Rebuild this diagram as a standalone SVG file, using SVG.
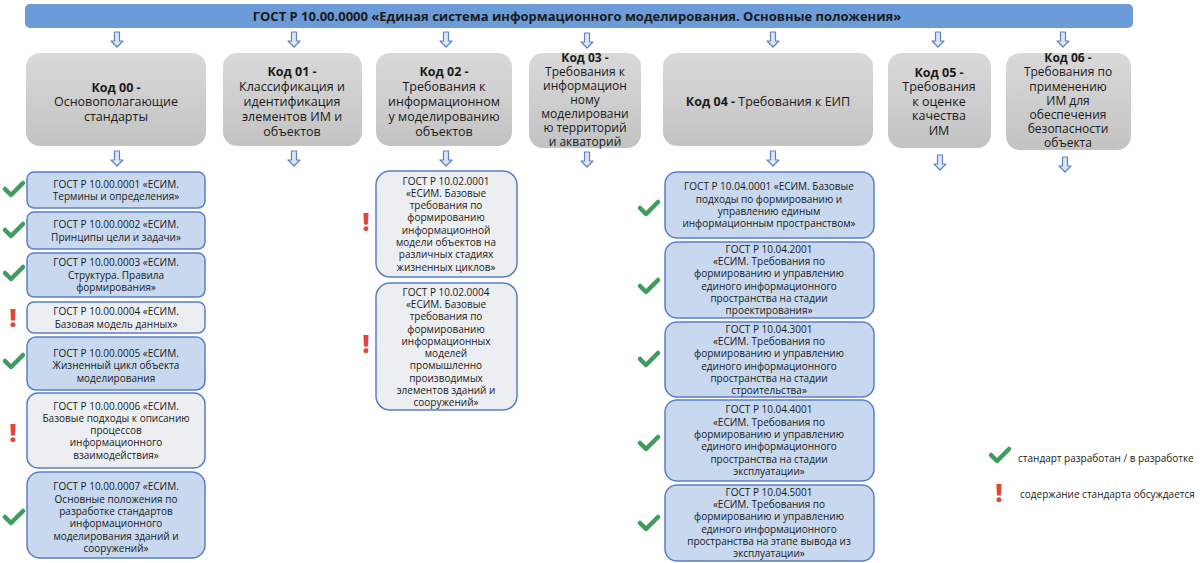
<svg xmlns="http://www.w3.org/2000/svg" width="1200" height="563" viewBox="0 0 1200 563">
<defs>
<linearGradient id="gray" x1="0" y1="0" x2="0" y2="1">
<stop offset="0" stop-color="#d9d9d9"/>
<stop offset="1" stop-color="#c3c3c3"/>
</linearGradient>
<path id="arr" d="M-2.5,0 H2.5 V9 H6 L0,15 L-6,9 H-2.5 Z" fill="#dce6f4" stroke="#5b82c6" stroke-width="1.2" stroke-linejoin="round"/>
<path id="chk" d="M-9,0 L-3,6 L9,-6" fill="none" stroke="#3f9b5e" stroke-width="4.5" stroke-linecap="round" stroke-linejoin="round"/>
</defs>
<style>
text{font-family:"Open Sans","Noto Sans","Liberation Sans",sans-serif;fill:#1a1a1a}
.title{font-size:13px;font-weight:bold;text-anchor:middle}
.code rect{fill:url(#gray);stroke:none}
.code text{font-size:12.5px;text-anchor:middle}
.code.tight text{font-size:12px}
.b{font-weight:bold}
.std rect{stroke:#5b7fc6;stroke-width:1.5}
.blue rect{fill:#c7d8ef}
.grey rect{fill:#eceef2}
.std text{font-size:10px;text-anchor:middle}
.warn{font-size:24px;font-weight:800;fill:#e0443c;text-anchor:middle}
.legend{font-size:10px}
</style>
<rect width="1200" height="563" fill="#ffffff"/>

<g id="header">
<rect x="25" y="4" width="1108" height="24" rx="5" fill="#6c9bd9"/>
<text class="title" x="577" y="20.5">ГОСТ Р 10.00.0000 «Единая система информационного моделирования. Основные положения»</text>
</g>

<g id="connectors">
<use href="#arr" x="117" y="32"/>
<use href="#arr" x="294" y="32"/>
<use href="#arr" x="446" y="32"/>
<use href="#arr" x="587" y="33"/>
<use href="#arr" x="773" y="32"/>
<use href="#arr" x="938" y="32"/>
<use href="#arr" x="1063" y="32"/>
<use href="#arr" x="117" y="151"/>
<use href="#arr" x="294" y="151"/>
<use href="#arr" x="446" y="151"/>
<use href="#arr" x="587" y="152"/>
<use href="#arr" x="773" y="151"/>
<use href="#arr" x="940" y="155"/>
<use href="#arr" x="1065" y="157"/>
</g>

<g id="code00" class="code">
<rect x="26" y="53" width="180" height="93" rx="14"/>
<text x="116" y="91.5" class="b">Код 00 -</text>
<text x="116" y="106">Основополагающие</text>
<text x="116" y="120.5">стандарты</text>
</g>
<g id="code01" class="code">
<rect x="223" y="53" width="139" height="93" rx="14"/>
<text x="292" y="75.5" class="b">Код 01 -</text>
<text x="292" y="90.5">Классификация и</text>
<text x="292" y="105.5">идентификация</text>
<text x="292" y="120.5">элементов ИМ и</text>
<text x="292" y="135.5">объектов</text>
</g>
<g id="code02" class="code">
<rect x="376" y="53" width="136" height="93" rx="14"/>
<text x="444" y="75.5" class="b">Код 02 -</text>
<text x="444" y="90.5">Требования к</text>
<text x="444" y="105.5">информационном</text>
<text x="444" y="120.5">у моделированию</text>
<text x="444" y="135.5">объектов</text>
</g>
<g id="code03" class="code tight">
<rect x="529" y="53" width="112" height="95" rx="14"/>
<text x="585" y="61.5" class="b">Код 03 -</text>
<text x="585" y="75.5">Требования к</text>
<text x="585" y="89.5">информацион</text>
<text x="585" y="103.5">ному</text>
<text x="585" y="117.5">моделировани</text>
<text x="585" y="132">ю территорий</text>
<text x="585" y="146">и акваторий</text>
</g>
<g id="code04" class="code">
<rect x="663" y="53" width="210" height="93" rx="14"/>
<text x="768" y="105.5"><tspan class="b">Код 04 -</tspan> Требования к ЕИП</text>
</g>
<g id="code05" class="code">
<rect x="888" y="53" width="103" height="95" rx="14"/>
<text x="939" y="76.5" class="b">Код 05 -</text>
<text x="939" y="90.5">Требования</text>
<text x="939" y="105.5">к оценке</text>
<text x="939" y="119.5">качества</text>
<text x="939" y="134.5">ИМ</text>
</g>
<g id="code06" class="code tight">
<rect x="1006" y="53" width="125" height="97" rx="14"/>
<text x="1068" y="61.5" class="b">Код 06 -</text>
<text x="1068" y="76">Требования по</text>
<text x="1068" y="90.5">применению</text>
<text x="1068" y="104.5">ИМ для</text>
<text x="1068" y="118.5">обеспечения</text>
<text x="1068" y="132.5">безопасности</text>
<text x="1068" y="146.5">объекта</text>
</g>

<g id="s0001" class="std blue">
<rect x="27" y="172" width="178" height="36" rx="7"/>
<text x="116" y="187.5">ГОСТ Р 10.00.0001 «ЕСИМ.</text>
<text x="116" y="200">Термины и определения»</text>
</g>
<g id="s0002" class="std blue">
<rect x="27" y="212" width="178" height="37" rx="7"/>
<text x="116" y="228">ГОСТ Р 10.00.0002 «ЕСИМ.</text>
<text x="116" y="240.5">Принципы цели и задачи»</text>
</g>
<g id="s0003" class="std blue">
<rect x="27" y="253" width="178" height="44" rx="7"/>
<text x="116" y="266">ГОСТ Р 10.00.0003 «ЕСИМ.</text>
<text x="116" y="278.5">Структура. Правила</text>
<text x="116" y="291">формирования»</text>
</g>
<g id="s0004" class="std grey">
<rect x="27" y="302" width="178" height="31" rx="7"/>
<text x="116" y="315">ГОСТ Р 10.00.0004 «ЕСИМ.</text>
<text x="116" y="327.5">Базовая модель данных»</text>
</g>
<g id="s0005" class="std blue">
<rect x="27" y="337" width="178" height="53" rx="9"/>
<text x="116" y="356.5">ГОСТ Р 10.00.0005 «ЕСИМ.</text>
<text x="116" y="369">Жизненный цикл объекта</text>
<text x="116" y="381.5">моделирования</text>
</g>
<g id="s0006" class="std grey">
<rect x="27" y="393" width="178" height="75" rx="11"/>
<text x="116" y="409.5">ГОСТ Р 10.00.0006 «ЕСИМ.</text>
<text x="116" y="421.8">Базовые подходы к описанию</text>
<text x="116" y="434.1">процессов</text>
<text x="116" y="446.4">информационного</text>
<text x="116" y="458.7">взаимодействия»</text>
</g>
<g id="s0007" class="std blue">
<rect x="27" y="472" width="178" height="86" rx="13"/>
<text x="116" y="490.4">ГОСТ Р 10.00.0007 «ЕСИМ.</text>
<text x="116" y="502.7">Основные положения по</text>
<text x="116" y="515">разработке стандартов</text>
<text x="116" y="527.3">информационного</text>
<text x="116" y="539.6">моделирования зданий и</text>
<text x="116" y="551.9">сооружений»</text>
</g>

<g id="s0201" class="std grey">
<rect x="376" y="171" width="141" height="106" rx="14"/>
<text x="446" y="184.5">ГОСТ Р 10.02.0001</text>
<text x="446" y="196.8">«ЕСИМ. Базовые</text>
<text x="446" y="209.1">требования по</text>
<text x="446" y="221.4">формированию</text>
<text x="446" y="233.7">информационной</text>
<text x="446" y="246">модели объектов на</text>
<text x="446" y="258.3">различных стадиях</text>
<text x="446" y="270.6">жизненных циклов»</text>
</g>
<g id="s0204" class="std grey">
<rect x="376" y="283" width="141" height="127" rx="14"/>
<text x="446" y="295.6">ГОСТ Р 10.02.0004</text>
<text x="446" y="307.9">«ЕСИМ. Базовые</text>
<text x="446" y="320.2">требования по</text>
<text x="446" y="332.5">формированию</text>
<text x="446" y="344.8">информационных</text>
<text x="446" y="357.1">моделей</text>
<text x="446" y="369.4">промышленно</text>
<text x="446" y="381.7">производимых</text>
<text x="446" y="394">элементов зданий и</text>
<text x="446" y="406.3">сооружений»</text>
</g>

<g id="s0401" class="std blue">
<rect x="665" y="172" width="209" height="66" rx="12"/>
<text x="769" y="190.3">ГОСТ Р 10.04.0001 «ЕСИМ. Базовые</text>
<text x="769" y="202.6">подходы по формированию и</text>
<text x="769" y="214.9">управлению единым</text>
<text x="769" y="227.2">информационным пространством»</text>
</g>
<g id="s0402" class="std blue">
<rect x="665" y="242" width="209" height="76" rx="12"/>
<text x="769" y="252.8">ГОСТ Р 10.04.2001</text>
<text x="769" y="265.1">«ЕСИМ. Требования по</text>
<text x="769" y="277.4">формированию и управлению</text>
<text x="769" y="289.7">единого информационного</text>
<text x="769" y="302">пространства на стадии</text>
<text x="769" y="314.3">проектирования»</text>
</g>
<g id="s0403" class="std blue">
<rect x="665" y="322" width="209" height="75" rx="12"/>
<text x="769" y="332.6">ГОСТ Р 10.04.3001</text>
<text x="769" y="344.9">«ЕСИМ. Требования по</text>
<text x="769" y="357.2">формированию и управлению</text>
<text x="769" y="369.5">единого информационного</text>
<text x="769" y="381.8">пространства на стадии</text>
<text x="769" y="394.1">строительства»</text>
</g>
<g id="s0404" class="std blue">
<rect x="665" y="400" width="209" height="81" rx="12"/>
<text x="769" y="413.4">ГОСТ Р 10.04.4001</text>
<text x="769" y="425.7">«ЕСИМ. Требования по</text>
<text x="769" y="438">формированию и управлению</text>
<text x="769" y="450.3">единого информационного</text>
<text x="769" y="462.6">пространства на стадии</text>
<text x="769" y="474.9">эксплуатации»</text>
</g>
<g id="s0405" class="std blue">
<rect x="665" y="485" width="209" height="76" rx="12"/>
<text x="769" y="495.8">ГОСТ Р 10.04.5001</text>
<text x="769" y="508.1">«ЕСИМ. Требования по</text>
<text x="769" y="520.4">формированию и управлению</text>
<text x="769" y="532.7">единого информационного</text>
<text x="769" y="545">пространства на этапе вывода из</text>
<text x="769" y="557.3">эксплуатации»</text>
</g>

<g id="status">
<use href="#chk" x="14" y="189"/>
<use href="#chk" x="14" y="230"/>
<use href="#chk" x="14" y="273"/>
<text class="warn" x="13" y="327">!</text>
<use href="#chk" x="14" y="361"/>
<text class="warn" x="13" y="442">!</text>
<use href="#chk" x="14" y="517"/>
<text class="warn" x="366" y="231">!</text>
<text class="warn" x="366" y="353">!</text>
<use href="#chk" x="649" y="208"/>
<use href="#chk" x="649" y="286"/>
<use href="#chk" x="649" y="359"/>
<use href="#chk" x="649" y="443"/>
<use href="#chk" x="649" y="523"/>
</g>

<g id="legend">
<use href="#chk" x="1000" y="455"/>
<text class="legend" x="1018" y="462">стандарт разработан / в разработке</text>
<text class="warn" x="999" y="502">!</text>
<text class="legend" x="1020" y="497.5">содержание стандарта обсуждается</text>
</g>
</svg>
